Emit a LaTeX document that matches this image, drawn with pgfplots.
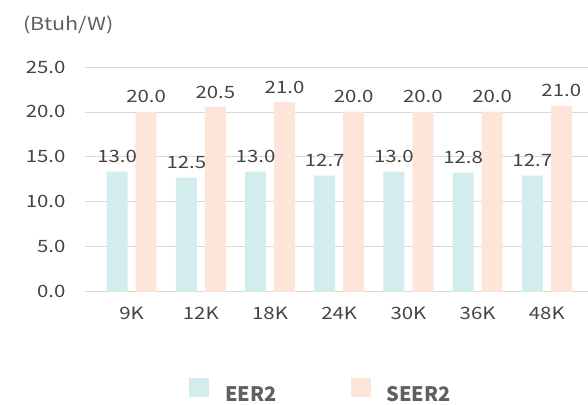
\documentclass[border=0pt]{standalone}
\usepackage{fontspec}
\setmainfont{Noto Sans CJK KR}
\newfontfamily\wide{Noto Sans CJK KR}[FakeStretch=1.2]
\usepackage{pgfplots}
\pgfplotsset{compat=1.18}

\definecolor{eercol}{HTML}{D3ECEC}
\definecolor{seercol}{HTML}{FDE5DA}
\definecolor{gridcol}{HTML}{D9D9D9}
\definecolor{txt}{HTML}{444444}

% x, bar height (as drawn), label text
\pgfplotstableread{
x  y      lab
0  13.37  13.0
1  12.70  12.5
2  13.37  13.0
3  12.93  12.7
4  13.37  13.0
5  13.26  12.8
6  12.93  12.7
}\eer
\pgfplotstableread{
x  y      lab
0  20.00  20.0
1  20.55  20.5
2  21.10  21.0
3  20.04  20.0
4  20.00  20.0
5  20.04  20.0
6  20.67  21.0
}\seer

\begin{document}
\begin{tikzpicture}
\begin{axis}[
  scale only axis,
  width=503pt, height=225pt,
  ybar=8pt, bar width=21pt,
  xmin=-0.675, xmax=6.59,
  ymin=0, ymax=25,
  ytick={0,5,...,25},
  xtick={0,...,6},
  xticklabels={9K,12K,18K,24K,30K,36K,48K},
  axis line style={draw=none},
  major tick length=0pt,
  ymajorgrids, grid style={gridcol, line width=0.8pt},
  /pgf/number format/assume math mode=true,
  yticklabel style={/pgf/number format/fixed, /pgf/number format/fixed zerofill,
    /pgf/number format/precision=1, xshift=-16pt},
  tick label style={font=\wide\fontsize{17}{20}\selectfont, text=txt},
  xticklabel style={yshift=-12pt},
  clip=false,
  nodes near coords,
  point meta=explicit symbolic,
  every node near coord/.append style={font=\wide\fontsize{17}{20}\selectfont, text=txt,
    anchor=center, yshift=15pt},
  legend columns=2,
  legend style={draw=none, fill=none, at={(0.2068,-0.4422)}, anchor=west,
    inner xsep=0pt, inner ysep=0pt,
    font=\fontsize{20}{22}\selectfont\bfseries, text=txt!85,
    /tikz/every even column/.append style={column sep=72pt}},
  legend image code/.code={\fill[#1] (0pt,-2pt) rectangle (20pt,17pt);},
]
\addplot[fill=eercol, draw=none] table[x=x, y=y, meta=lab] {\eer};
\addplot[fill=seercol, draw=none] table[x=x, y=y, meta=lab] {\seer};
\legend{\hspace*{14pt}EER2, \hspace*{14pt}SEER2}
\node[anchor=west, inner sep=0pt, font=\wide\fontsize{18}{20}\selectfont, text=txt!85]
  at (rel axis cs:-0.1233,1.185) {(Btuh/W)};
\end{axis}
\path[use as bounding box] (-85pt,-113pt) rectangle (503pt,292pt);
\end{tikzpicture}
\end{document}
